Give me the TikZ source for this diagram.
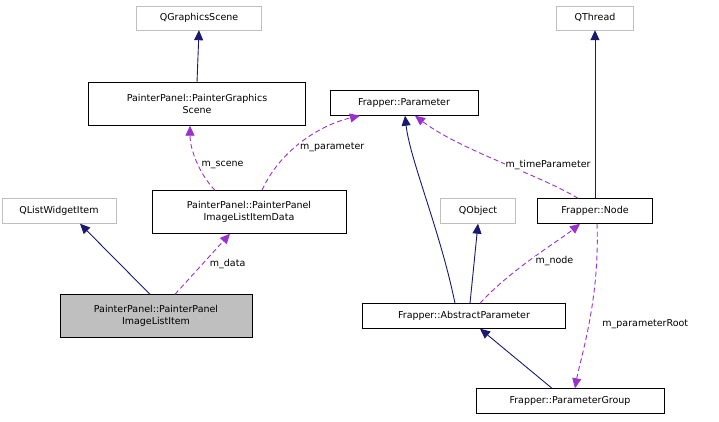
\documentclass[tikz,border=0pt]{standalone}
\usepackage{fontspec}
\setmainfont{DejaVu Sans}
\usepackage{tikz}
\usetikzlibrary{arrows.meta}
\definecolor{navy}{RGB}{25,25,112}
\definecolor{purp}{RGB}{153,50,204}
\definecolor{boxgray}{RGB}{191,191,191}
\tikzset{
  cls/.style={draw=black,fill=white,inner sep=0pt,align=center,font=\fontsize{9.5}{12.5}\selectfont},
  ext/.style={cls,draw=boxgray},
  inh/.style={draw=navy,line width=0.9pt,-{Triangle[length=10pt,width=9pt]}},
  use/.style={draw=purp,line width=0.9pt,dash pattern=on 5pt off 3pt,-{Triangle[length=10pt,width=9pt]}},
  lbl/.style={font=\fontsize{9.5}{12}\selectfont,fill=white,inner sep=1pt}
}
\begin{document}
\begin{tikzpicture}[x=1pt,y=-1pt]
\useasboundingbox (0,0) rectangle (719,421);

% Class boxes
\node[ext,minimum width=125,minimum height=24] (qgs) at (199,18) {QGraphicsScene};
\node[cls,minimum width=217,minimum height=43] (pgs) at (197,104) {PainterPanel::PainterGraphics\\Scene};
\node[cls,minimum width=148,minimum height=25] (par) at (404,103) {Frapper::Parameter};
\node[ext,minimum width=77,minimum height=24] (qth) at (595,18) {QThread};
\node[ext,minimum width=114,minimum height=25] (qlw) at (59,211) {QListWidgetItem};
\node[cls,minimum width=194,minimum height=43] (dat) at (249,212) {PainterPanel::PainterPanel\\ImageListItemData};
\node[ext,minimum width=75,minimum height=25] (qob) at (478,211) {QObject};
\node[cls,minimum width=115,minimum height=25] (nod) at (595,211) {Frapper::Node};
\node[cls,fill=boxgray,minimum width=192,minimum height=43] (itm) at (156,316) {PainterPanel::PainterPanel\\ImageListItem};
\node[cls,minimum width=203,minimum height=25] (abs) at (464,316) {Frapper::AbstractParameter};
\node[cls,minimum width=188,minimum height=25] (grp) at (570,401) {Frapper::ParameterGroup};

% Inheritance
\draw[inh] (pgs.north) -- (qgs.south);
\draw[inh] ([xshift=-6]itm.north) -- ([xshift=21]qlw.south);
\draw[inh] ([xshift=-9]abs.north) .. controls (440,230) and (410,160) .. ([xshift=1]par.south);
\draw[inh] ([xshift=6]abs.north) -- (qob.south);
\draw[inh] (nod.north) -- (qth.south);
\draw[inh] ([xshift=-18]grp.north) -- ([xshift=16]abs.south);

% Usage
\draw[use] ([xshift=19]itm.north) -- node[lbl,pos=0.5,right=6pt]{m\_data} ([xshift=-19]dat.south);
\draw[use] ([xshift=-34]dat.north) .. controls (200,175) and (190,150) .. ([xshift=-7]pgs.south) node[lbl,pos=0.45,right=2pt]{m\_scene};
\draw[use] ([xshift=13]dat.north) .. controls (280,150) and (320,125) .. ([xshift=-44]par.south) node[lbl,pos=0.42,right=4pt]{m\_parameter};
\draw[use] ([xshift=-17]nod.north) .. controls (540,175) and (460,150) .. ([xshift=11]par.south) node[lbl,pos=0.45,right=-4pt]{m\_timeParameter};
\draw[use] ([xshift=16]abs.north) .. controls (510,270) and (560,240) .. ([xshift=-15]nod.south) node[lbl,pos=0.45,right=6pt]{m\_node};
\draw[use] ([xshift=2]nod.south) .. controls (600,300) and (580,360) .. ([xshift=5]grp.north) node[lbl,pos=0.5,right=12pt]{m\_parameterRoot};
\end{tikzpicture}
\end{document}
